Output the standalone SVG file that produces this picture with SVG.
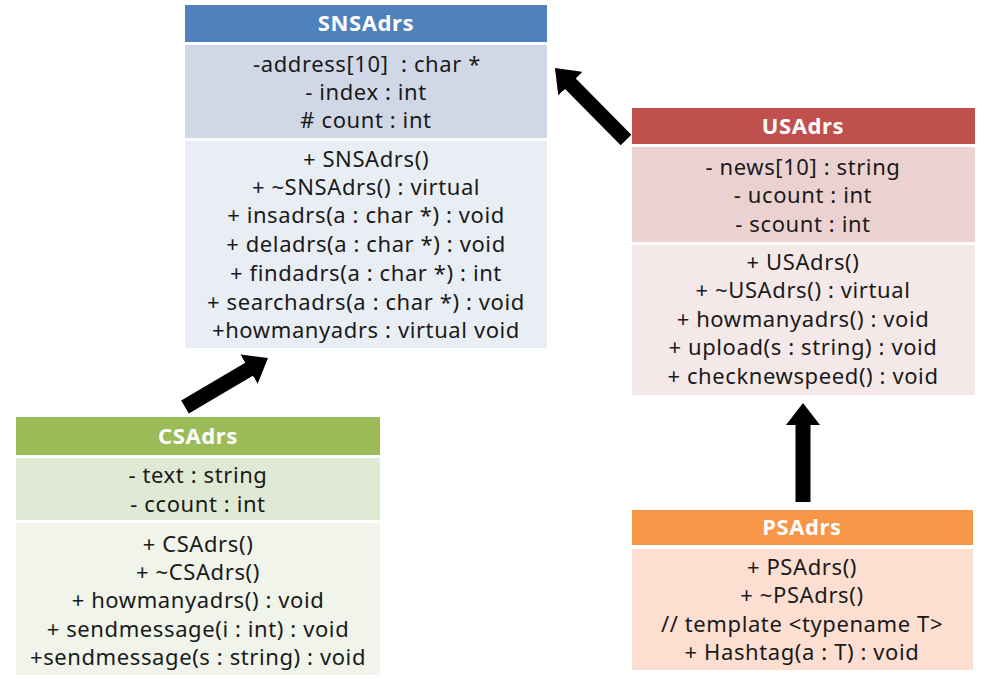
<svg xmlns="http://www.w3.org/2000/svg" width="988" height="682" viewBox="0 0 988 682">
<style>
text{font-family:"Noto Sans","Liberation Sans",sans-serif;font-size:22px;letter-spacing:0.6px;fill:#1a1a1a;text-anchor:middle}
text.h{font-weight:bold;fill:#ffffff}
</style>
<defs>
<marker id="ah" markerUnits="userSpaceOnUse" markerWidth="22" markerHeight="34" viewBox="0 0 22 34" refX="1" refY="17" orient="auto">
<path d="M0,0 L22,17 L0,34 z" fill="#000"/>
</marker>
</defs>
<rect width="988" height="682" fill="#ffffff"/>
<g id="SNSAdrs">
<rect x="185" y="5" width="362" height="37" fill="#4F81BD"/>
<rect x="185" y="45" width="362" height="93" fill="#D0D8E8"/>
<rect x="185" y="141" width="362" height="207" fill="#E9EDF4"/>
<text class="h" x="366" y="31">SNSAdrs</text>
<text x="367" y="72">-address[10]&#160; : char *</text>
<text x="366" y="100">- index : int</text>
<text x="366" y="128"># count : int</text>
<text x="366" y="167">+ SNSAdrs()</text>
<text x="366" y="195">+ ~SNSAdrs() : virtual</text>
<text x="366" y="223">+ insadrs(a : char *) : void</text>
<text x="366" y="252">+ deladrs(a : char *) : void</text>
<text x="366" y="281">+ findadrs(a : char *) : int</text>
<text x="366" y="310">+ searchadrs(a : char *) : void</text>
<text x="366" y="338">+howmanyadrs : virtual void</text>
</g>
<g id="USAdrs">
<rect x="632" y="108" width="343" height="36" fill="#C0504D"/>
<rect x="632" y="147" width="343" height="95" fill="#EBD2D1"/>
<rect x="632" y="245" width="343" height="150" fill="#F5E8E8"/>
<text class="h" x="803" y="134">USAdrs</text>
<text x="803" y="175">- news[10] : string</text>
<text x="803" y="203">- ucount : int</text>
<text x="803" y="232">- scount : int</text>
<text x="803" y="270">+ USAdrs()</text>
<text x="803" y="298">+ ~USAdrs() : virtual</text>
<text x="803" y="327">+ howmanyadrs() : void</text>
<text x="803" y="355">+ upload(s : string) : void</text>
<text x="803" y="384">+ checknewspeed() : void</text>
</g>
<g id="CSAdrs">
<rect x="16" y="417" width="364" height="38" fill="#9BBB59"/>
<rect x="16" y="458" width="364" height="62" fill="#E0E9D3"/>
<rect x="16" y="523" width="364" height="152" fill="#F0F4EB"/>
<text class="h" x="198" y="444">CSAdrs</text>
<text x="198" y="483">- text : string</text>
<text x="198" y="512">- ccount : int</text>
<text x="198" y="552">+ CSAdrs()</text>
<text x="198" y="580">+ ~CSAdrs()</text>
<text x="198" y="608">+ howmanyadrs() : void</text>
<text x="198" y="637">+ sendmessage(i : int) : void</text>
<text x="198" y="665">+sendmessage(s : string) : void</text>
</g>
<g id="PSAdrs">
<rect x="632" y="510" width="341" height="35" fill="#F79646"/>
<rect x="632" y="549" width="341" height="121" fill="#FCDFD1"/>
<text class="h" x="802" y="535">PSAdrs</text>
<text x="802" y="575">+ PSAdrs()</text>
<text x="802" y="603">+ ~PSAdrs()</text>
<text x="802" y="632">// template &lt;typename T&gt;</text>
<text x="802" y="660">+ Hashtag(a : T) : void</text>
</g>
<g id="connectors" stroke="#000" stroke-width="15" fill="none">
<line x1="626" y1="140" x2="569.7" y2="83" marker-end="url(#ah)"/>
<line x1="185" y1="407" x2="249.9" y2="368.7" marker-end="url(#ah)"/>
<line x1="803" y1="502" x2="803" y2="424" marker-end="url(#ah)"/>
</g>
</svg>
